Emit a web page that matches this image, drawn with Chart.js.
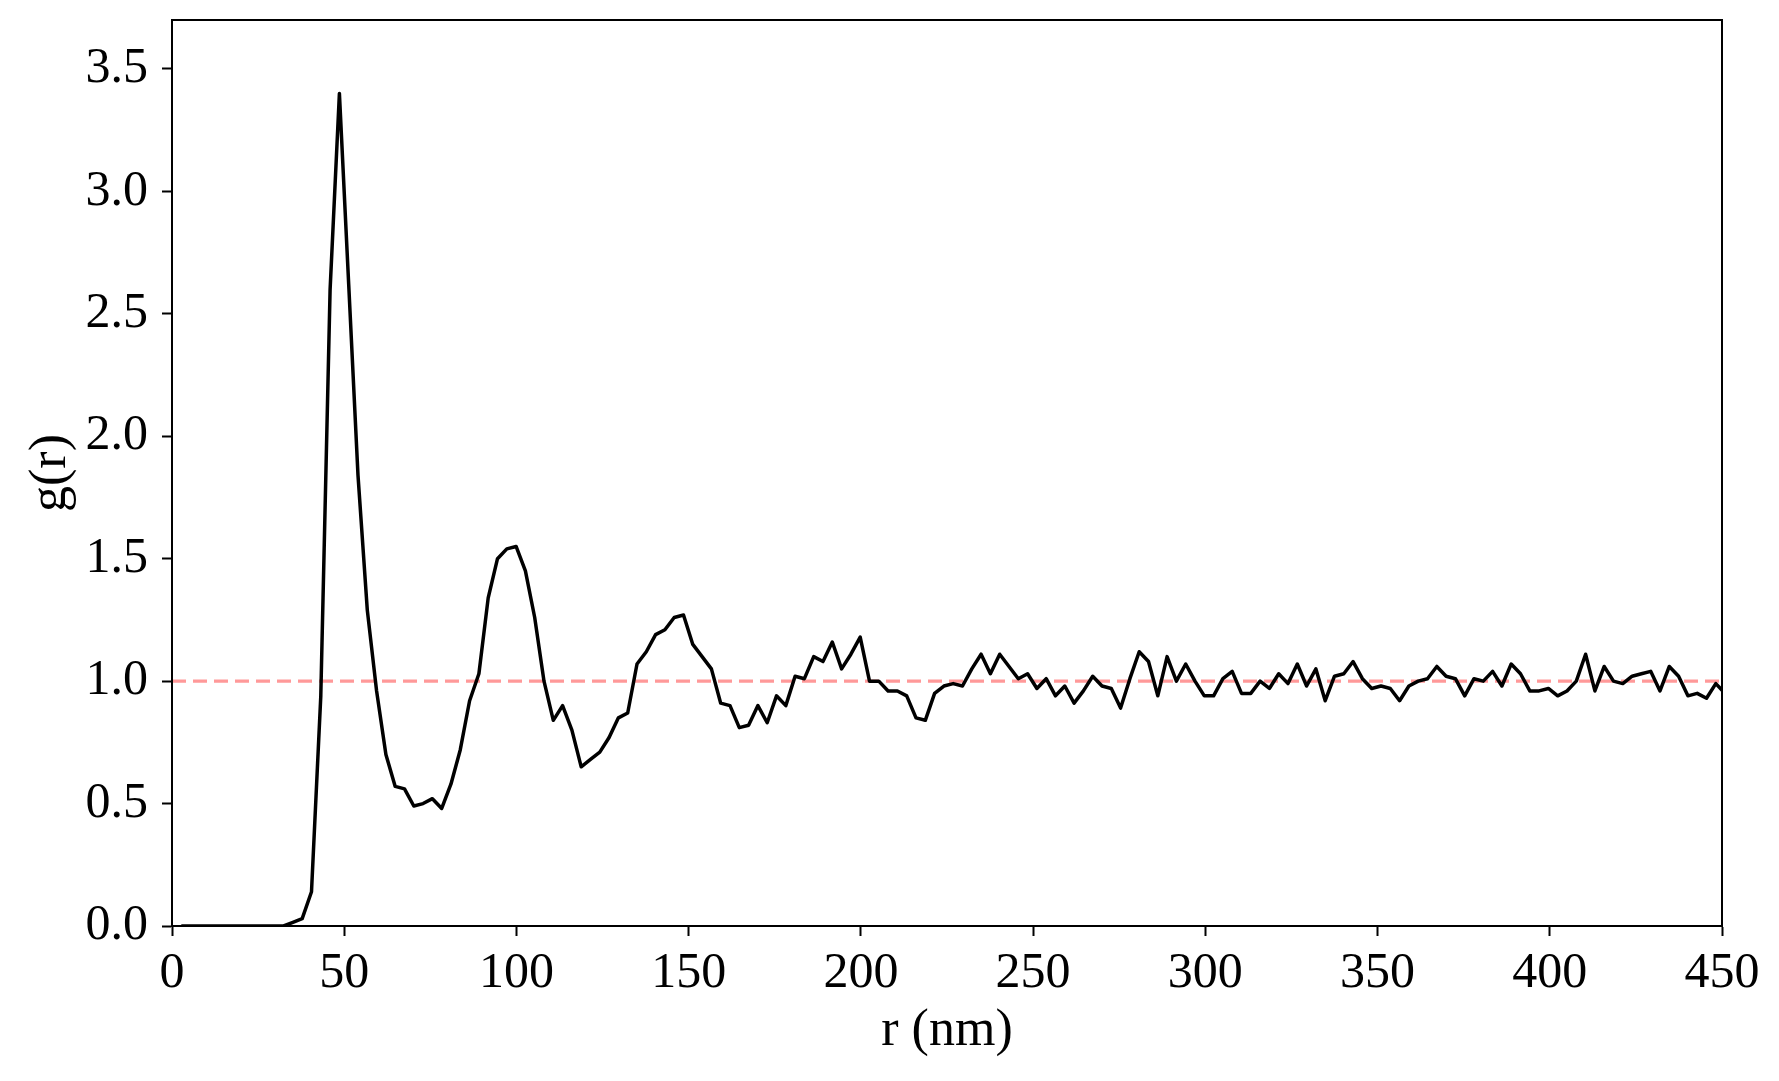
<!DOCTYPE html>
<html>
<head>
<meta charset="utf-8">
<title>g(r)</title>
<script src="https://cdn.jsdelivr.net/npm/chart.js@4.4.1/dist/chart.umd.min.js"></script>
<style>
    html, body { margin: 0; padding: 0; background: #ffffff; }
    #wrap { width: 1779px; height: 1081px; }
</style>
</head>
<body>
<div id="wrap"><canvas id="rdfChart" width="1779" height="1081"></canvas></div>
<script>
// Distances r (nm), un point par bin
const rValues = [
    2.7, 5.4, 8.1, 10.8, 13.5, 16.2, 18.9, 21.6, 24.3, 27.0,
    29.7, 32.4, 35.1, 37.8, 40.5, 43.2, 45.9, 48.6, 51.3, 54.0,
    56.7, 59.4, 62.1, 64.8, 67.5, 70.2, 72.9, 75.6, 78.3, 81.0,
    83.7, 86.4, 89.1, 91.8, 94.5, 97.2, 99.9, 102.6, 105.3, 108.0,
    110.7, 113.4, 116.1, 118.8, 121.5, 124.2, 126.9, 129.6, 132.3, 135.0,
    137.7, 140.4, 143.1, 145.8, 148.5, 151.2, 153.9, 156.6, 159.3, 162.0,
    164.7, 167.4, 170.1, 172.8, 175.5, 178.2, 180.9, 183.6, 186.3, 189.0,
    191.7, 194.4, 197.1, 199.8, 202.5, 205.2, 207.9, 210.6, 213.3, 216.0,
    218.7, 221.4, 224.1, 226.8, 229.5, 232.2, 234.9, 237.6, 240.3, 243.0,
    245.7, 248.4, 251.1, 253.8, 256.5, 259.2, 261.9, 264.6, 267.3, 270.0,
    272.7, 275.4, 278.1, 280.8, 283.5, 286.2, 288.9, 291.6, 294.3, 297.0,
    299.7, 302.4, 305.1, 307.8, 310.5, 313.2, 315.9, 318.6, 321.3, 324.0,
    326.7, 329.4, 332.1, 334.8, 337.5, 340.2, 342.9, 345.6, 348.3, 351.0,
    353.7, 356.4, 359.1, 361.8, 364.5, 367.2, 369.9, 372.6, 375.3, 378.0,
    380.7, 383.4, 386.1, 388.8, 391.5, 394.2, 396.9, 399.6, 402.3, 405.0,
    407.7, 410.4, 413.1, 415.8, 418.5, 421.2, 423.9, 426.6, 429.3, 432.0,
    434.7, 437.4, 440.1, 442.8, 445.5, 448.2, 450.9
];

// Fonction de distribution radiale g(r)
const gValues = [
    0, 0, 0, 0, 0, 0, 0, 0, 0, 0,
    0, 0, 0.015, 0.03, 0.14, 0.94, 2.60, 3.40, 2.62, 1.84,
    1.29, 0.96, 0.70, 0.57, 0.56, 0.49, 0.50, 0.52, 0.48, 0.58,
    0.72, 0.92, 1.03, 1.34, 1.50, 1.54, 1.55, 1.45, 1.26, 1.00,
    0.84, 0.90, 0.80, 0.65, 0.68, 0.71, 0.77, 0.85, 0.87, 1.07,
    1.12, 1.19, 1.21, 1.26, 1.27, 1.15, 1.10, 1.05, 0.91, 0.90,
    0.81, 0.82, 0.90, 0.83, 0.94, 0.90, 1.02, 1.01, 1.10, 1.08,
    1.16, 1.05, 1.11, 1.18, 1.00, 1.00, 0.96, 0.96, 0.94, 0.85,
    0.84, 0.95, 0.98, 0.99, 0.98, 1.05, 1.11, 1.03, 1.11, 1.06,
    1.01, 1.03, 0.97, 1.01, 0.94, 0.98, 0.91, 0.96, 1.02, 0.98,
    0.97, 0.89, 1.01, 1.12, 1.08, 0.94, 1.10, 1.00, 1.07, 1.00,
    0.94, 0.94, 1.01, 1.04, 0.95, 0.95, 1.00, 0.97, 1.03, 0.99,
    1.07, 0.98, 1.05, 0.92, 1.02, 1.03, 1.08, 1.01, 0.97, 0.98,
    0.97, 0.92, 0.98, 1.00, 1.01, 1.06, 1.02, 1.01, 0.94, 1.01,
    1.00, 1.04, 0.98, 1.07, 1.03, 0.96, 0.96, 0.97, 0.94, 0.96,
    1.00, 1.11, 0.96, 1.06, 1.00, 0.99, 1.02, 1.03, 1.04, 0.96,
    1.06, 1.02, 0.94, 0.95, 0.93, 0.99, 0.95
];

// Niveau de référence (gaz idéal) et graduations
const refLevel = 1.0;
const xTicks = [0, 50, 100, 150, 200, 250, 300, 350, 400, 450];
const yTicks = [0.0, 0.5, 1.0, 1.5, 2.0, 2.5, 3.0, 3.5];
const xRange = [0, 450];
const yRange = [0, 3.7];

const serif = '"Liberation Serif", "DejaVu Serif", serif';
const xTickFont = { family: serif, size: 50 };
const yTickFont = { family: serif, size: 50, lineHeight: 0.8 };
const titleFont = { family: serif, size: 52 };

/**
 * Cadre complet autour de la zone de tracé (comme matplotlib)
 */
const framePlugin = {
    id: 'frame',
    afterDatasetsDraw(chart) {
        const { ctx, chartArea } = chart;
        ctx.save();
        ctx.strokeStyle = '#000000';
        ctx.lineWidth = 2;
        ctx.strokeRect(chartArea.left, chartArea.top,
            chartArea.right - chartArea.left, chartArea.bottom - chartArea.top);
        ctx.restore();
    }
};

const ctx = document.getElementById('rdfChart');

new Chart(ctx, {
    type: 'line',
    data: {
        datasets: [{
            label: 'g(r)',
            data: rValues.map((r, i) => ({ x: r, y: gValues[i] })),
            borderColor: '#000000',
            borderWidth: 3.5,
            borderJoinStyle: 'round',
            pointRadius: 0,
            tension: 0,
            fill: false,
            order: 1
        }, {
            label: 'ref',
            data: xRange.map(x => ({ x: x, y: refLevel })),
            borderColor: '#ff9999',
            borderWidth: 3.3,
            borderDash: [14, 7],
            pointRadius: 0,
            fill: false,
            order: 2
        }]
    },
    options: {
        responsive: false,
        animation: false,
        layout: {
            padding: { top: 20, right: 57, left: 0, bottom: 0 }
        },
        plugins: {
            legend: { display: false },
            tooltip: { enabled: false }
        },
        scales: {
            x: {
                type: 'linear',
                min: xRange[0],
                max: xRange[1],
                afterFit: scale => { scale.height = 155; },
                afterBuildTicks: axis => { axis.ticks = xTicks.map(v => ({ value: v })); },
                ticks: {
                    color: '#000000',
                    font: xTickFont,
                    padding: 8,
                    maxRotation: 0,
                    autoSkip: false,
                    callback: v => String(v)
                },
                grid: {
                    drawOnChartArea: false,
                    drawTicks: true,
                    tickLength: 10,
                    tickWidth: 2,
                    tickColor: '#000000'
                },
                border: { display: true, color: '#000000', width: 2 },
                title: {
                    display: true,
                    text: 'r (nm)',
                    color: '#000000',
                    font: titleFont,
                    padding: { top: 0, bottom: 18 }
                }
            },
            y: {
                min: yRange[0],
                max: yRange[1],
                afterFit: scale => {
                    scale.width = 172;
                    scale.paddingTop = 0;
                },
                afterBuildTicks: axis => { axis.ticks = yTicks.map(v => ({ value: v })); },
                ticks: {
                    color: '#000000',
                    font: yTickFont,
                    padding: 14,
                    autoSkip: false,
                    callback: v => Number(v).toFixed(1)
                },
                grid: {
                    drawOnChartArea: false,
                    drawTicks: true,
                    tickLength: 10,
                    tickWidth: 2,
                    tickColor: '#000000'
                },
                border: { display: true, color: '#000000', width: 2 },
                title: {
                    display: true,
                    text: 'g(r)',
                    color: '#000000',
                    font: titleFont,
                    padding: { top: 20, bottom: 0 }
                }
            }
        }
    },
    plugins: [framePlugin]
});
</script>
</body>
</html>
